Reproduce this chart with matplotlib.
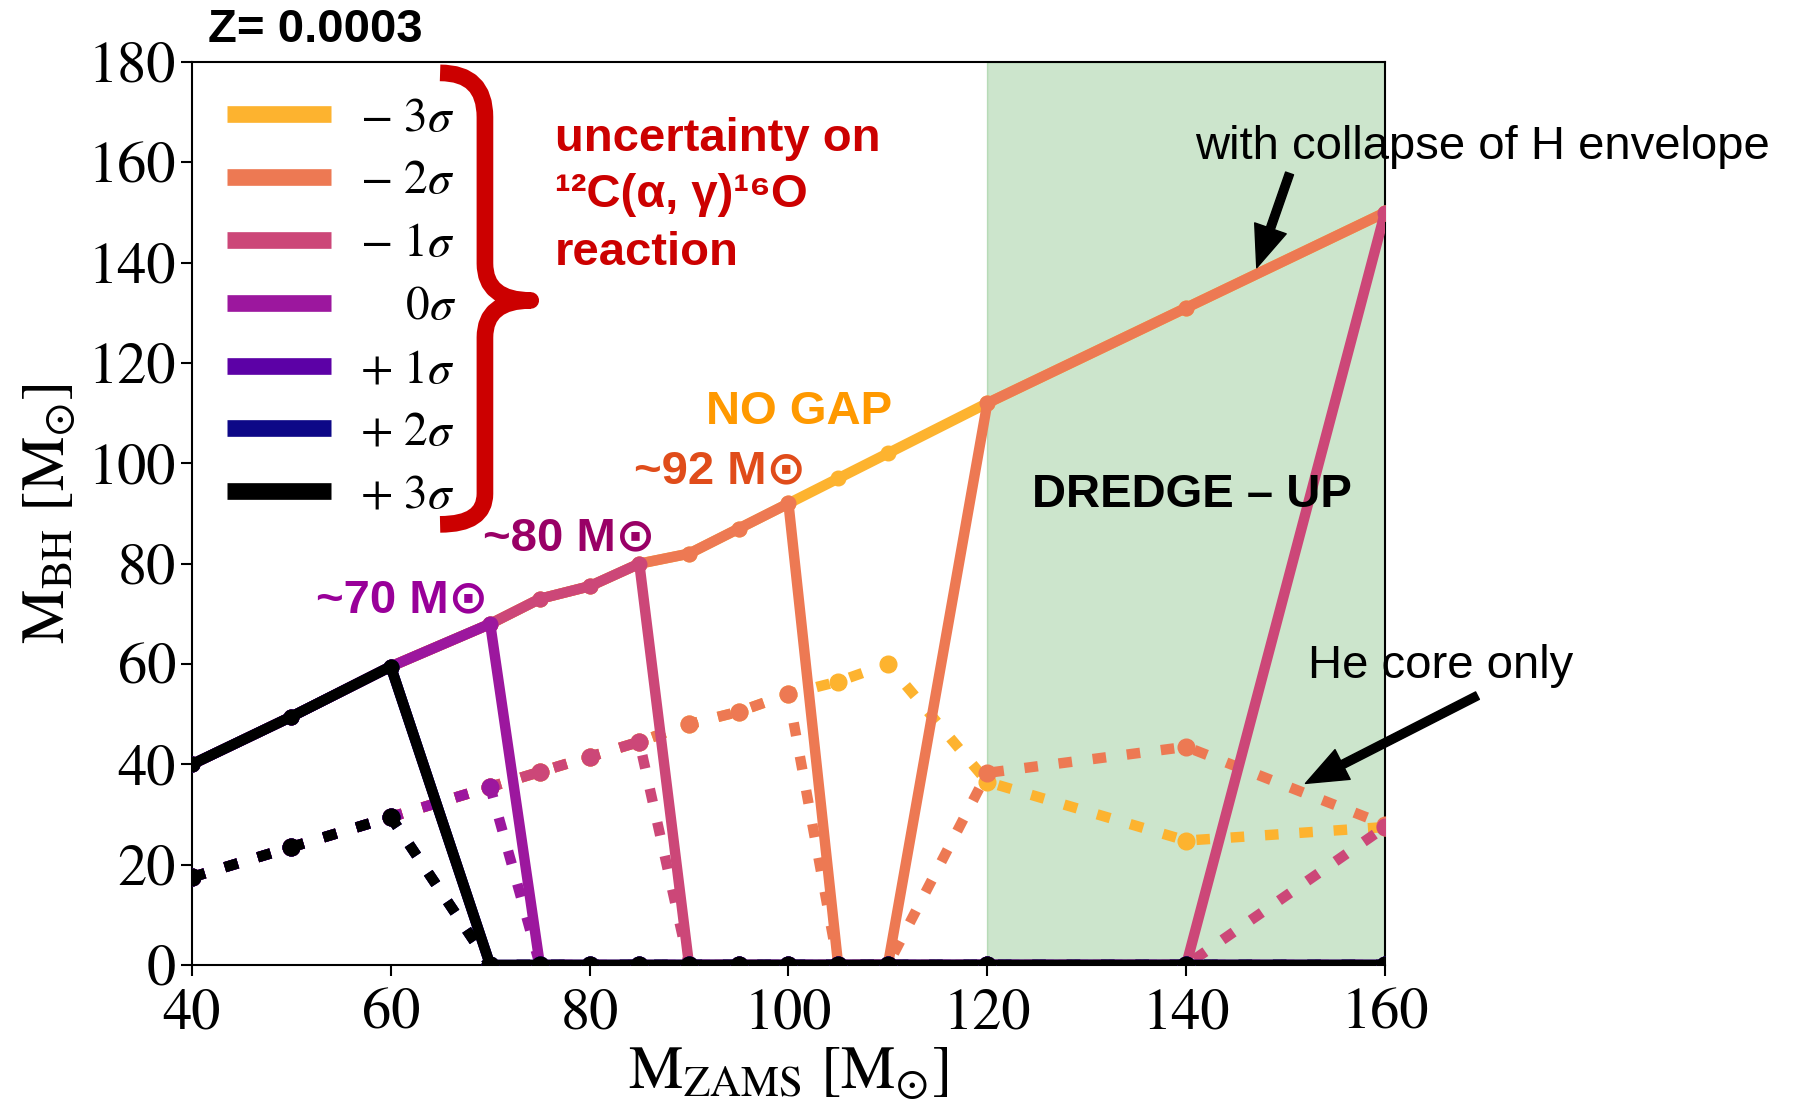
import matplotlib
matplotlib.use("Agg")
import matplotlib.pyplot as plt
from matplotlib.path import Path
import matplotlib.patches as mpatches

plt.rcParams["font.family"] = "STIXGeneral"
plt.rcParams["mathtext.fontset"] = "stix"

SANS = ["Liberation Sans", "DejaVu Sans"]

# ZAMS masses sampled by the models
m_zams = [40, 50, 60, 70, 75, 80, 85, 90, 95, 100, 105, 110, 120, 140, 160]

# BH mass with collapse of the H envelope (solid)
bh_full = {
    "-3": [40, 49.5, 59.5, 68, 73, 75.5, 80, 82, 87, 92, 97, 102, 112, 131, 150],
    "-2": [40, 49.5, 59.5, 68, 73, 75.5, 80, 82, 87, 92, 0, 0, 112, 131, 150],
    "-1": [40, 49.5, 59.5, 68, 73, 75.5, 80, 0, 0, 0, 0, 0, 0, 0, 150],
    "0": [40, 49.5, 59.5, 68, 0, 0, 0, 0, 0, 0, 0, 0, 0, 0, 0],
    "+1": [40, 49.5, 59.5, 0, 0, 0, 0, 0, 0, 0, 0, 0, 0, 0, 0],
    "+2": [40, 49.5, 59.5, 0, 0, 0, 0, 0, 0, 0, 0, 0, 0, 0, 0],
    "+3": [40, 49.5, 59.5, 0, 0, 0, 0, 0, 0, 0, 0, 0, 0, 0, 0],
}

# BH mass from the He core only (dotted)
bh_he = {
    "-3": [17.5, 23.5, 29.5, 35.5, 38.5, 41.5, 44.5, 48, 50.5, 54, 56.5, 60, 36.5, 24.8, 27.5],
    "-2": [17.5, 23.5, 29.5, 35.5, 38.5, 41.5, 44.5, 48, 50.5, 54, 0, 0, 38.3, 43.5, 28],
    "-1": [17.5, 23.5, 29.5, 35.5, 38.5, 41.5, 44.5, 0, 0, 0, 0, 0, 0, 0, 27.5],
    "0": [17.5, 23.5, 29.5, 35.5, 0, 0, 0, 0, 0, 0, 0, 0, 0, 0, 0],
    "+1": [17.5, 23.5, 29.5, 0, 0, 0, 0, 0, 0, 0, 0, 0, 0, 0, 0],
    "+2": [17.5, 23.5, 29.5, 0, 0, 0, 0, 0, 0, 0, 0, 0, 0, 0, 0],
    "+3": [17.5, 23.5, 29.5, 0, 0, 0, 0, 0, 0, 0, 0, 0, 0, 0, 0],
}

sigmas = ["-3", "-2", "-1", "0", "+1", "+2", "+3"]
labels = [r"$-\ 3\sigma$", r"$-\ 2\sigma$", r"$-\ 1\sigma$", r"$\quad\,\,0\sigma$",
          r"$+\ 1\sigma$", r"$+\ 2\sigma$", r"$+\ 3\sigma$"]
colors = ["#fdb32f", "#ed7953", "#cc4778", "#9c179e", "#5c01a6", "#0d0887", "black"]

fig = plt.figure(figsize=(18.02, 11.04), dpi=100)
ax = fig.add_axes([0.1065, 0.1259, 0.6621, 0.8179])

ax.axvspan(120, 160, facecolor="green", alpha=0.2, edgecolor="green", linewidth=1)

LW = 7.5
for s, lab, c in zip(sigmas, labels, colors):
    ax.plot(m_zams, bh_full[s], color=c, lw=LW, marker="o", ms=10.5, label=lab,
            solid_capstyle="butt", zorder=3)
    ax.plot(m_zams, bh_he[s], color=c, lw=LW, marker="o", ms=12,
            linestyle=(0, (1.3, 2.0)), zorder=3)

ax.set_xlim(40, 160)
ax.set_ylim(0, 180)
ax.set_xticks([40, 60, 80, 100, 120, 140, 160])
ax.set_yticks(range(0, 181, 20))
ax.tick_params(labelsize=42, length=8, width=1.5, direction="out")
ax.tick_params(axis="x", pad=9)
for sp in ax.spines.values():
    sp.set_linewidth(1.5)
ax.set_xlabel(r"$\mathrm{M_{ZAMS}}$ [M$_{\odot}$]", fontsize=44, labelpad=3)
ax.set_ylabel(r"$\mathrm{M_{BH}}$ [M$_{\odot}$]", fontsize=44, labelpad=8)

leg = ax.legend(loc="upper left", bbox_to_anchor=(0.0, 1.0), frameon=False,
                fontsize=34, handlelength=2.2, labelspacing=0.42,
                handletextpad=0.6, borderaxespad=0.35)
for line in leg.get_lines():
    line.set_linewidth(12)
    line.set_marker("")

# red curly brace
tr = ax.transAxes
verts = [(0.208, 0.988), (0.2456, 0.988), (0.2456, 0.939),
         (0.2456, 0.777),
         (0.2456, 0.736), (0.284, 0.736),
         (0.2456, 0.736), (0.2456, 0.695),
         (0.2456, 0.522),
         (0.2456, 0.488), (0.208, 0.488)]
codes = [Path.MOVETO, Path.CURVE3, Path.CURVE3, Path.LINETO,
         Path.CURVE3, Path.CURVE3, Path.CURVE3, Path.CURVE3,
         Path.LINETO, Path.CURVE3, Path.CURVE3]
brace = mpatches.PathPatch(Path(verts, codes), transform=tr, fill=False,
                           edgecolor="#cc0000", lw=12, capstyle="butt",
                           joinstyle="round", clip_on=False, zorder=4)
ax.add_patch(brace)

txt = dict(family=SANS, fontweight="bold", fontsize=34, va="center", ha="left")
ax.text(76.5, 164.6, "uncertainty on", color="#cc0000", **txt)
ax.text(76.5, 153.4, "¹²C(α, γ)¹⁶O", color="#cc0000", **txt)
ax.text(76.5, 142.0, "reaction", color="#cc0000", **txt)
ax.text(91.7, 110.2, "NO GAP", color="#ff9900", **txt)
ax.text(84.5, 98.3, "~92 M⊙", color="#e04c1a", **txt)
ax.text(69.3, 85.1, "~80 M⊙", color="#990066", **txt)
ax.text(52.5, 72.7, "~70 M⊙", color="#990099", **txt)
ax.text(124.5, 93.7, "DREDGE – UP", color="black", **txt)
ax.text(41.6, 186.3, "Z= 0.0003", color="black", clip_on=False, **txt)

ax.text(140.9, 163.0, "with collapse of H envelope", family=SANS, fontsize=34,
        va="center", ha="left")
ax.text(152.3, 59.7, "He core only", family=SANS, fontsize=34,
        va="center", ha="left")

arrow = dict(facecolor="black", edgecolor="black", width=6, headwidth=24,
             headlength=30, shrink=0)
ax.annotate("", xy=(147.1, 139.0), xytext=(150.4, 157.8), arrowprops=arrow,
            annotation_clip=False)
ax.annotate("", xy=(152.0, 36.2), xytext=(169.3, 53.7), arrowprops=arrow,
            annotation_clip=False)

fig.savefig("out.png", dpi=100)
